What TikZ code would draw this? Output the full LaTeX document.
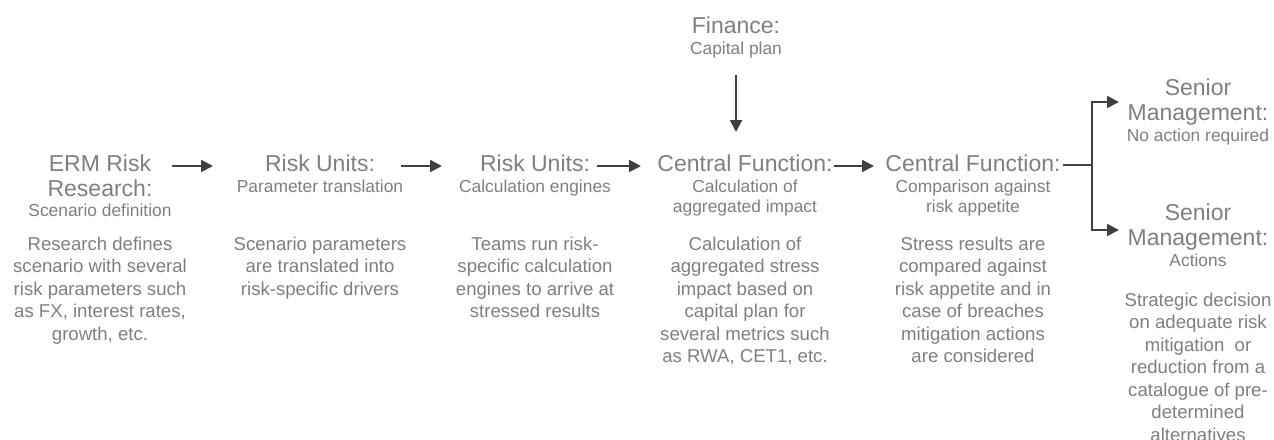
\documentclass[tikz,border=0pt]{standalone}
\usepackage{fontspec}
\setmainfont{Liberation Sans}
\usetikzlibrary{arrows.meta}
\definecolor{txt}{RGB}{127,127,127}
\definecolor{arrc}{RGB}{64,64,64}
\newcommand{\blk}[1]{\parbox[t]{240pt}{\centering #1}}
\tikzset{
  ttl/.style={anchor=base, inner sep=0pt, text=txt, font=\fontsize{23}{25.5}\selectfont},
  sub/.style={anchor=base, inner sep=0pt, text=txt, font=\fontsize{17.4}{20}\selectfont},
  bdy/.style={anchor=base, inner sep=0pt, text=txt, font=\fontsize{18.6}{22.5}\selectfont},
  ln/.style={draw=arrc, line width=2pt, line join=miter},
  arr/.style={ln, -{Triangle[length=12pt,width=12pt]}}
}
\begin{document}
\begin{tikzpicture}[x=1pt,y=-1pt]
\useasboundingbox (0,0) rectangle (1274,439);
% column 1
\node[ttl] (c1t) at (100,171) {\blk{ERM Risk\\Research:}};
\node[sub] (c1s) at (100,216) {\blk{Scenario definition}};
\node[bdy] (c1b) at (100,250) {\blk{Research defines\\scenario with several\\risk parameters such\\as FX, interest rates,\\growth, etc.}};
% column 2
\node[ttl] (c2t) at (320,171) {\blk{Risk Units:}};
\node[sub] (c2s) at (320,192) {\blk{Parameter translation}};
\node[bdy] (c2b) at (320,250) {\blk{Scenario parameters\\are translated into\\risk-specific drivers}};
% column 3
\node[ttl] (c3t) at (535,171) {\blk{Risk Units:}};
\node[sub] (c3s) at (535,192) {\blk{Calculation engines}};
\node[bdy] (c3b) at (535,250) {\blk{Teams run risk-\\specific calculation\\engines to arrive at\\stressed results}};
% finance
\node[ttl] (fit) at (736,33) {\blk{Finance:}};
\node[sub] (fis) at (736,54) {\blk{Capital plan}};
% column 4
\node[ttl] (c4t) at (745,171) {\blk{Central Function:}};
\node[sub] (c4s) at (745,192) {\blk{Calculation of\\aggregated impact}};
\node[bdy] (c4b) at (745,250) {\blk{Calculation of\\aggregated stress\\impact based on\\capital plan for\\several metrics such\\as RWA, CET1, etc.}};
% column 5
\node[ttl] (c5t) at (973,171) {\blk{Central Function:}};
\node[sub] (c5s) at (973,192) {\blk{Comparison against\\risk appetite}};
\node[bdy] (c5b) at (973,250) {\blk{Stress results are\\compared against\\risk appetite and in\\case of breaches\\mitigation actions\\are considered}};
% senior management (top)
\node[ttl] (s1t) at (1198,95) {\blk{Senior\\Management:}};
\node[sub] (s1s) at (1198,141) {\blk{No action required}};
% senior management (bottom)
\node[ttl] (s2t) at (1198,220) {\blk{Senior\\Management:}};
\node[sub] (s2s) at (1198,266) {\blk{Actions}};
\node[bdy] (s2b) at (1198,306) {\blk{Strategic decision\\on adequate risk\\mitigation\ \ or\\reduction from a\\catalogue of pre-\\determined\\alternatives}};
% connector end points
\coordinate (a1s) at (172,166); \coordinate (a1e) at (213,166);
\coordinate (a2s) at (401,166); \coordinate (a2e) at (442,166);
\coordinate (a3s) at (597,166); \coordinate (a3e) at (641,166);
\coordinate (a4s) at (834,166); \coordinate (a4e) at (874,166);
\coordinate (fs) at (736,75); \coordinate (fe) at (736,132);
\coordinate (sp0) at (1063,165); \coordinate (spj) at (1092,165);
\coordinate (up) at (1119,102); \coordinate (dn) at (1119,230);
% connectors
\draw[arr] (a1s) -- (a1e);
\draw[arr] (a2s) -- (a2e);
\draw[arr] (a3s) -- (a3e);
\draw[arr] (a4s) -- (a4e);
\draw[arr] (fs) -- (fe);
\draw[ln] (sp0) -- (spj);
\draw[arr] (spj) |- (up);
\draw[arr] (spj) |- (dn);
\end{tikzpicture}
\end{document}
